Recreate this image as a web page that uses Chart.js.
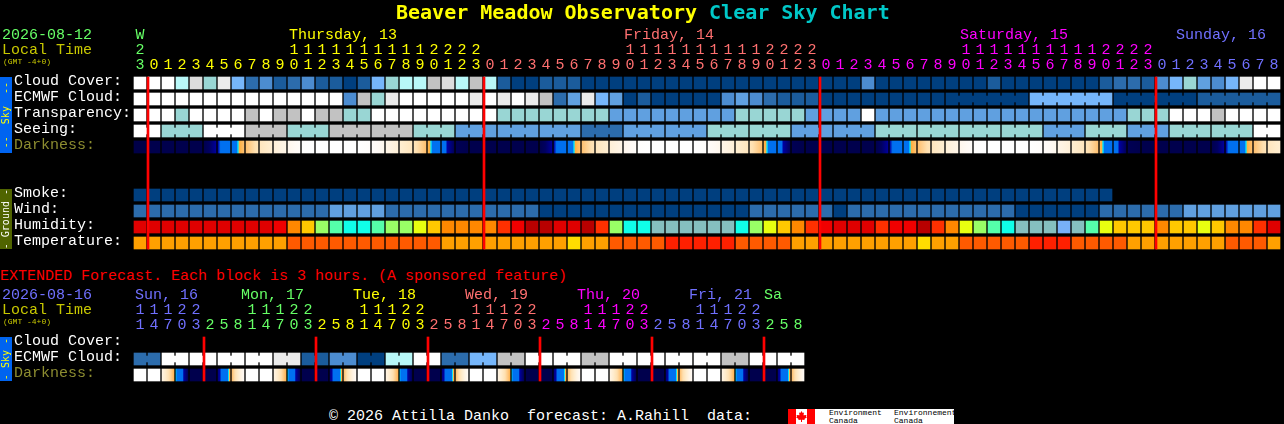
<!DOCTYPE html>
<html>
<head>
<meta charset="utf-8">
<title>Beaver Meadow Observatory Clear Sky Chart</title>
<script src="https://cdn.jsdelivr.net/npm/chart.js@4"></script>
<style>
  html, body { margin: 0; background: #000; width: 1284px; height: 424px; overflow: hidden; }
  canvas { position: absolute; left: 0; }
  .t { position: absolute; white-space: pre; font: 15px/16px "Liberation Mono", monospace; }
  .strip { position: absolute; left: 0; width: 12px; display: flex; align-items: center; justify-content: center;
           font: 10px/12px "DejaVu Sans Mono", monospace; white-space: pre; }
  .strip span { writing-mode: vertical-rl; transform: rotate(180deg); }
</style>
</head>
<body>
<canvas id="mainChart" width="1284" height="251" style="top:0"></canvas>
<canvas id="extChart" width="1284" height="98" style="top:285px"></canvas>

<div class="t" style="left:396px;top:0;font:bold 20px/24px 'DejaVu Sans Mono',monospace;color:#ffff00">Beaver Meadow Observatory <span style="color:#00c8c8">Clear Sky Chart</span></div>
<div class="t" style="left:2px;top:28px;color:#66ff66">2026-08-12</div>
<div class="t" style="left:2px;top:43px;color:#c8c800">Local Time</div>
<div class="t" style="left:3px;top:57px;font-size:8px;line-height:10px;color:#c8c800">(GMT -4+0)</div>
<div class="t" style="left:0;top:269px;color:#ff0000">EXTENDED Forecast. Each block is 3 hours. (A sponsored feature)</div>
<div class="t" style="left:2px;top:288px;color:#7070ff">2026-08-16</div>
<div class="t" style="left:2px;top:303px;color:#c8c800">Local Time</div>
<div class="t" style="left:3px;top:317px;font-size:8px;line-height:10px;color:#c8c800">(GMT -4+0)</div>
<div class="t" style="left:329px;top:409px;color:#fff">© 2026 Attilla Danko  forecast: A.Rahill  data:</div>

<div class="strip" style="top:77px;height:76px;background:#0064f0;color:#ffff00"><span>--  Sky  --</span></div>
<div class="strip" style="top:189px;height:60px;background:#506400;color:#fff"><span>- Ground -</span></div>
<div class="strip" style="top:337px;height:44px;background:#0064f0;color:#ffff00"><span>- Sky -</span></div>

<div style="position:absolute;left:788px;top:409px;width:166px;height:15px;background:#fff;overflow:hidden">
  <div style="position:absolute;left:0;top:0;width:8px;height:15px;background:#f00"></div>
  <div style="position:absolute;left:19px;top:0;width:8px;height:15px;background:#f00"></div>
  <svg style="position:absolute;left:8px;top:2px" width="11" height="11" viewBox="0 0 11 11"><polygon fill="#f00" points="5.5,0 6.7,2 8,1.5 7.5,4.2 10.5,4 10,5.6 11,6.2 8.4,8 8.7,9 6,8.8 6,11 5,11 5,8.8 2.3,9 2.6,8 0,6.2 1,5.6 .5,4 3.5,4.2 3,1.5 4.3,2"/></svg>
  <div class="t" style="left:41px;top:0;font-size:8px;line-height:7.5px;color:#000">Environment
Canada</div>
  <div class="t" style="left:106px;top:0;font-size:8px;line-height:7.5px;color:#000">Environnement
Canada</div>
</div>

<script>
// ======= DATA: 1 hour forecast =======
const hours = [23,0,1,2,3,4,5,6,7,8,9,10,11,12,13,14,15,16,17,18,19,20,21,22,23,
  0,1,2,3,4,5,6,7,8,9,10,11,12,13,14,15,16,17,18,19,20,21,22,23,
  0,1,2,3,4,5,6,7,8,9,10,11,12,13,14,15,16,17,18,19,20,21,22,23,
  0,1,2,3,4,5,6,7,8];
const rowLabels = ["Cloud Cover:","ECMWF Cloud:","Transparency:","Seeing:","Darkness:","","","Smoke:","Wind:","Humidity:","Temperature:"];
const dayNames = ["Thursday, 13","Friday, 14","Saturday, 15","Sunday, 16"];
const dayNameCols = [11,34.93,58.93,74.36];
const dayStarts = [0,1,25,49,73];
const dayColors = ["#66ff66","#ffff00","#ff7070","#ff00ff","#7070ff"];
const midnights = [1,25,49,73];

const cloudCover = [11,11,11,6,9,7,10,5,2,3,1,2,3,1,1,0,1,5,7,6,6,8,9,6,8,6,1,0,0,1,1,1,
  0,0,0,0,0,0,0,0,0,0,0,0,0,0,0,0,0,0,0,0,3,0,0,0,0,0,0,0,0,1,0,0,0,0,0,0,0,1,2,2,1,3,5,7,4,3,5,10,11,11];
const ecmwfCloud = [11,11,11,11,11,11,11,11,11,11,11,11,11,11,11,3,8,7,10,11,11,11,11,11,10,11,10,11,10,8,2,4,10,5,4,
  0,1,0,0,0,0,0,3,4,3,2,1,1,1,0,0,0,0,0,0,0,0,0,0,0,0,0,0,0,5,5,5,5,5,5,0,0,0,0,0,0,1,1,1,1,1,1];
const ecmwfBlocks = [1,1,1,1,1,1,1,1,1,1,1,1,1,1,1,1,1,1,1,1,1,1,1,1,1,1,1,1,1,1,1,1,1,1,1,1,1,1,1,1,1,1,1,1,1,1,1,1,1,1,1,1,1,1,1,1,1,1,6,6,6,6];
const transparency = [11,11,11,7,11,11,11,11,8,11,8,8,11,8,8,7,7,11,11,11,11,11,11,11,11,11,
  7,7,7,7,7,7,7,7,4,4,4,4,4,4,4,4,4,7,7,7,7,7,4,4,4,4,11,
  4,4,4,4,4,4,4,4,4,4,4,4,4,4,4,4,4,4,7,7,7,11,11,11,8,11,11,11,11];
const seeing = [11,11,7,7,7,11,11,11,8,8,8,7,7,7,8,8,8,8,8,8,7,7,7,4,4,4,4,4,4,4,4,4,2,2,2,4,4,4,4,4,4,7,7,7,7,7,7,4,4,4,4,4,4,
  7,7,7,7,7,7,7,7,7,7,7,7,4,4,4,7,7,7,4,4,4,7,7,7,7,7,7,11,11];
const seeingBlocks = [2,3,3,3,3,3,3,3,3,3,3,3,3,3,3,3,3,3,3,3,3,3,3,3,3,3,3,2];
const darknessFrom = [0,.2,.2,.2,.2,.3,2,3.4,5,6.5,7.5,8.5,9.8,10,10,10,10,9.4,8.2,7.2,6.3,4.6,2.9,.5,.2,.2,.2,.2,.2,
  .3,2,3.4,5,6.5,7.5,8.5,9.8,10,10,10,10,9.4,8.2,7.2,6.3,4.6,2.9,.5,.2,.2,.2,.2,.2,
  .3,2,3.4,5,6.5,7.5,8.5,9.8,10,10,10,10,9.4,8.2,7.2,6.3,4.6,2.9,.5,.2,.2,.2,.2,.2,
  .3,2,3.4,5,6.5];
const darknessTo = [0,.2,.2,.2,.2,1.9,3.4,5,6.3,7.2,8.2,9.4,10,10,10,10,9.6,8.6,7.5,6.5,5,3,.9,.2,.2,.2,.2,.2,.2,
  1.9,3.4,5,6.3,7.2,8.2,9.4,10,10,10,10,9.6,8.6,7.5,6.5,5,3,.9,.2,.2,.2,.2,.2,.2,
  1.9,3.4,5,6.3,7.2,8.2,9.4,10,10,10,10,9.6,8.6,7.5,6.5,5,3,.9,.2,.2,.2,.2,.2,.2,
  1.9,3.4,5,6.3,7.2];
const smoke = [0,0,0,0,0,0,0,0,0,0,0,0,0,0,0,0,0,0,0,0,0,0,0,0,0,0,0,0,0,0,0,0,0,0,0,
  0,0,0,0,0,0,0,0,0,0,0,0,0,0,0,0,0,0,0,0,0,0,0,0,0,0,0,0,0,0,0,0,0,0,0];
const wind = [2,2,2,2,2,2,2,2,2,2,2,2,2,2,4,4,4,4,2,2,2,2,2,2,2,2,2,2,2,0,0,0,0,0,0,0,0,0,0,0,0,0,0,0,2,2,2,2,2,2,0,2,
  2,2,2,2,2,2,2,2,2,2,2,0,0,0,0,0,0,2,2,2,2,2,2,4,4,4,4,4,4,4];
const humidity = [1,1,1,1,1,1,1,1,1,1,2,4,5,7,8,9,9,8,7,7,6,5,4,4,4,4,3,2,0,0,1,1,0,3,7,9,9,10,10,10,10,10,10,9,7,6,5,4,3,2,1,1,
  1,3,2,2,0,3,4,6,7,8,9,10,10,10,11,10,8,6,5,5,5,4,5,5,6,5,4,4,3,1];
const temperature = [0,0,0,0,0,0,0,0,0,0,0,1,1,1,1,1,1,1,1,1,1,1,0,0,0,0,0,0,0,0,0,3,0,0,1,1,1,1,2,2,2,2,2,1,1,1,1,0,0,0,0,0,
  0,0,0,0,3,0,0,1,1,1,1,1,2,2,2,1,1,1,1,0,0,0,0,0,0,0,1,1,1,0];

// ======= DATA: extended forecast, 3 hour blocks =======
const extHours = [11,14,17,20,23,2,5,8,11,14,17,20,23,2,5,8,11,14,17,20,23,2,5,8,
  11,14,17,20,23,2,5,8,11,14,17,20,23,2,5,8,11,14,17,20,23,2,5,8];
const extRowLabels = ["Cloud Cover:","ECMWF Cloud:","Darkness:"];
const extDayNames = ["Sun, 16","Mon, 17","Tue, 18","Wed, 19","Thu, 20","Fri, 21","Sa"];
const extDayNameCols = [0,7.57,15.57,23.57,31.57,39.57,44.93];
const extDayStarts = [0,5,13,21,29,37,45];
const extDayColors = ["#7070ff","#66ff66","#ffff00","#ff7070","#ff00ff","#7070ff","#66ff66"];
const extMidnights = [5,13,21,29,37,45];
const extEcmwf = [2,2,11,11,11,11,11,11,11,11,10,10,1,1,3,3,0,0,6,6,11,11,2,2,5,5,8,8,11,11,11,11,8,8,11,11,11,11,11,11,11,11,8,8,11,11,11,11];
const extBlocks = [2,2,2,2,2,2,2,2,2,2,2,2,2,2,2,2,2,2,2,2,2,2,2,2];
const extDarkFrom = [10,10,8,4.2,.2,.2,1.5,5, 10,10,8,4.2,.2,.2,1.5,5, 10,10,8,4.2,.2,.2,1.5,5, 10,10,8,4.2,.2,.2,1.5,5, 10,10,8,4.2,.2,.2,1.5,5, 10,10,8,4.2,.2,.2,1.5,5];
const extDarkTo = [10,10,4.6,.8,.2,.2,4.6,9, 10,10,4.6,.8,.2,.2,4.6,9, 10,10,4.6,.8,.2,.2,4.6,9, 10,10,4.6,.8,.2,.2,4.6,9, 10,10,4.6,.8,.2,.2,4.6,9, 10,10,4.6,.8,.2,.2,4.6,9];

// ======= COLOURS =======
const skyColors = ["#003f7f","#1b5c9c","#2c6cac","#4c8cd0","#60a0e0","#76b6fa","#b8f8f8","#99d6d4","#c2c2c2","#dcdcdc","#ebebeb","#ffffff"];
const humidityColors = ["#b80000","#e00000","#f00000","#ff3000","#ff8800","#ffc800","#e8ff10","#99ff66","#55ffaa","#10ffe8","#85c0c0","#78b0f8"];
const temperatureColors = ["#ffa000","#ff5a00","#ff2000","#ffdc00"];
const darkLevels = [0,1,2,2.3,4,4.2,4.4,5,6,7,8,9,10];
const darkColors = ["#000048","#000060","#0000a0","#0070f0","#0070f0","#00e8ff","#ffb040","#ffc070","#ffe0b0","#ffeccc","#fff4e4","#fffaf5","#ffffff"];
const FONT = '"Liberation Mono", monospace';

// ======= HELPERS =======
const CELL = 6 / 16;   // half a cell, in rows
const JOIN = 3 / 16;   // half a joining bridge, in rows

function cellSet(values, row, colors) {
  return {
    data: values.map((v, i) => ({ x: i, y: [row - CELL, row + CELL] })),
    backgroundColor: ctx => colors[values[ctx.dataIndex]],
    barThickness: 12, grouped: false, order: 2
  };
}

// little bars that tie the cells of a forecast block together
function bridgeSet(values, blocks, row, colors) {
  const data = [];
  let start = 0;
  blocks.forEach(len => {
    for (let i = start; i < start + len - 1; i++) data.push({ x: i + 0.5, y: [row - JOIN, row + JOIN], c: colors[values[i]] });
    start += len;
  });
  return {
    data: data,
    backgroundColor: ctx => (data[ctx.dataIndex] || {}).c,
    barThickness: 2, grouped: false, order: 2
  };
}

function darkColorAt(level) {
  for (let k = 0; k < darkLevels.length - 1; k++) {
    if (level <= darkLevels[k + 1]) {
      const f = (level - darkLevels[k]) / (darkLevels[k + 1] - darkLevels[k]);
      const a = darkColors[k], b = darkColors[k + 1];
      const mix = p => Math.round(parseInt(a.substr(p, 2), 16) * (1 - f) + parseInt(b.substr(p, 2), 16) * f);
      return `rgb(${mix(1)},${mix(3)},${mix(5)})`;
    }
  }
  return "#ffffff";
}

function darknessSet(from, to, row) {
  return {
    data: from.map((v, i) => ({ x: i, y: [row - CELL, row + CELL] })),
    backgroundColor: ctx => {
      const i = ctx.dataIndex;
      if (i === undefined) return "#000";
      const px = ctx.chart.scales.x.getPixelForValue(i);
      if (!isFinite(px)) return "#000";
      const g = ctx.chart.ctx.createLinearGradient(px - 6, 0, px + 6, 0);
      const a = from[i], b = to[i];
      g.addColorStop(0, darkColorAt(a));
      darkLevels.forEach(l => {
        if (l > Math.min(a, b) && l < Math.max(a, b)) g.addColorStop((l - a) / (b - a), darkColorAt(l));
      });
      g.addColorStop(1, darkColorAt(b));
      return g;
    },
    barThickness: 12, grouped: false, order: 2
  };
}

// red line on the left edge of the first column of each day
function midnightSet(cols, top, bottom) {
  return {
    data: cols.map(c => ({ x: c - 6 / 14, y: [top - CELL, bottom + CELL] })),
    backgroundColor: "#ff0000",
    barThickness: 2, grouped: false, order: 1
  };
}

function colorOfCol(i, starts, colors) {
  let c = colors[0];
  starts.forEach((s, k) => { if (i >= s) c = colors[k]; });
  return c;
}

const dayTextPlugin = {
  id: "dayText",
  afterDraw(chart, args, opts) {
    const c = chart.ctx;
    c.save();
    c.font = "15px " + FONT;
    c.textBaseline = "middle";
    opts.names.forEach((n, k) => {
      c.fillStyle = colorOfCol(Math.ceil(opts.cols[k]), opts.starts, opts.colors);
      c.fillText(n, chart.scales.x.getPixelForValue(opts.cols[k]) - 5, opts.y);
    });
    c.restore();
  }
};

function noPadding(s) {
  s.paddingLeft = s.paddingRight = s.paddingTop = s.paddingBottom = 0;
}

function makeOptions(cfg) {
  return {
    responsive: false, animation: false, devicePixelRatio: 1,
    layout: { autoPadding: false, padding: { left: 14, right: 3, top: 0, bottom: 0 } },
    plugins: { legend: { display: false }, tooltip: { enabled: false }, dayText: cfg.days },
    scales: {
      x: {
        type: "linear", position: "top", offset: false, min: -0.5, max: cfg.cols - 0.5,
        grid: { display: false, drawTicks: false }, border: { display: false },
        afterBuildTicks: s => { s.ticks = cfg.tickLabels.map((t, i) => ({ value: i })); },
        afterFit: s => { s.height = cfg.headHeight; noPadding(s); },
        ticks: {
          autoSkip: false, maxRotation: 0, minRotation: 0, padding: 2.5,
          font: { family: FONT, size: 15, lineHeight: 1 },
          color: ctx => colorOfCol(ctx.index, cfg.starts, cfg.colors),
          callback: (v, i) => cfg.tickLabels[i]
        }
      },
      y: {
        type: "linear", reverse: true, min: -0.5, max: cfg.rows.length - 0.5,
        grid: { display: false, drawTicks: false }, border: { display: false },
        afterBuildTicks: s => { s.ticks = cfg.rows.map((t, i) => ({ value: i })); },
        afterFit: s => { s.width = 119; noPadding(s); },
        ticks: {
          autoSkip: false, crossAlign: "far", padding: 0, labelOffset: -1.5,
          font: { family: FONT, size: 15 },
          color: ctx => cfg.rows[ctx.index] === "Darkness:" ? "#8c8c30" : "#ffffff",
          callback: (v, i) => cfg.rows[i]
        }
      }
    }
  };
}

function hourLabel(h) {
  return h < 10 ? String(h) : [String(h).charAt(0), String(h).charAt(1)];
}

// ======= GRAFIK 1 HOUR =======
const mainTicks = hours.map(hourLabel);
mainTicks[0] = ["W", "2", "3"];

new Chart(document.getElementById("mainChart"), {
  type: "bar",
  plugins: [dayTextPlugin],
  data: {
    datasets: [
      midnightSet(midnights, 0, 10),
      cellSet(cloudCover, 0, skyColors),
      cellSet(ecmwfCloud, 1, skyColors),
      bridgeSet(ecmwfCloud, ecmwfBlocks, 1, skyColors),
      cellSet(transparency, 2, skyColors),
      cellSet(seeing, 3, skyColors),
      bridgeSet(seeing, seeingBlocks, 3, skyColors),
      darknessSet(darknessFrom, darknessTo, 4),
      cellSet(smoke, 7, skyColors),
      cellSet(wind, 8, skyColors),
      cellSet(humidity, 9, humidityColors),
      cellSet(temperature, 10, temperatureColors)
    ]
  },
  options: makeOptions({
    cols: hours.length, rows: rowLabels, headHeight: 75,
    tickLabels: mainTicks, starts: dayStarts, colors: dayColors,
    days: { names: dayNames, cols: dayNameCols, starts: dayStarts, colors: dayColors, y: 35 }
  })
});

// ======= GRAFIK EXTENDED =======
new Chart(document.getElementById("extChart"), {
  type: "bar",
  plugins: [dayTextPlugin],
  data: {
    datasets: [
      midnightSet(extMidnights, 0, 2),
      cellSet(extEcmwf, 1, skyColors),
      bridgeSet(extEcmwf, extBlocks, 1, skyColors),
      darknessSet(extDarkFrom, extDarkTo, 2)
    ]
  },
  options: makeOptions({
    cols: 82, rows: extRowLabels, headHeight: 50,
    tickLabels: extHours.map(hourLabel), starts: extDayStarts, colors: extDayColors,
    days: { names: extDayNames, cols: extDayNameCols, starts: extDayStarts, colors: extDayColors, y: 10 }
  })
});
</script>
</body>
</html>
